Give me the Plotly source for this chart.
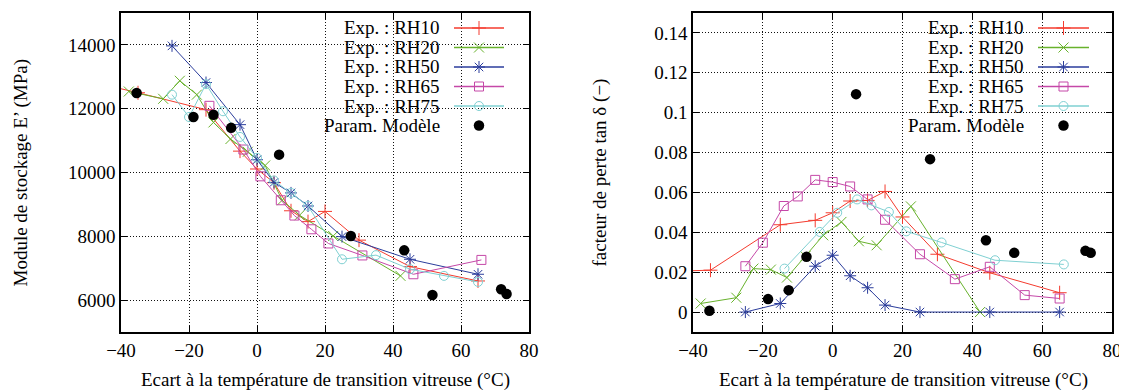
import plotly.graph_objects as go

W, H = 1127, 392
OX, OY = 8, 8  # page body margin offset compensation (pixels)

# ---------------- data: left panel (storage modulus E', MPa) ----------------
rh10_x_E = [-45, -35, -15, -5, 0, 5, 10, 15, 20, 30, 45, 65]
rh10_E = [12750, 12500, 11970, 10670, 10110, 9680, 8800, 8460, 8780, 7880, 7050, 6600]

rh20_x_E = [-37.7, -27.6, -22.7, -17.7, -12.8, -7.8, -2.7, 2.4, 7.4, 12.5, 22.4, 42.2]
rh20_E = [12540, 12310, 12875, 12440, 11570, 11050, 10650, 10220, 9130, 8660, 8010, 6760]

rh50_x_E = [-25, -15, -5, 0, 5, 10, 15, 25, 45, 65]
rh50_E = [13970, 12820, 11500, 10400, 9690, 9360, 8950, 7990, 7280, 6810]

rh65_x_E = [-14, -4, 1, 7, 11, 16, 21, 31, 46, 66]
rh65_E = [12090, 10720, 9880, 9130, 8650, 8220, 7775, 7400, 6810, 7260]

rh75_x_E = [-25, -20, -15, -10, -5, 0, 5, 10, 15, 25, 35, 45, 55, 65]
rh75_E = [12440, 11740, 12770, 11920, 11115, 10460, 9750, 9360, 8950, 7280, 7410, 6970, 6760, 6570]

param_x_E = [-35.4, -18.7, -12.8, -7.6, 6.5, 27.6, 43.3, 51.6, 71.8, 73.4]
param_E = [12490, 11740, 11810, 11400, 10560, 8010, 7560, 6160, 6340, 6190]

# ---------------- data: right panel (loss factor tan delta) ----------------
rh10_x_t = [-45, -35, -15, -5, 0, 5, 10, 15, 20, 30, 45, 65]
rh10_t = [0.0205, 0.021, 0.0438, 0.046, 0.0498, 0.0557, 0.056, 0.0605, 0.0477, 0.029, 0.0197, 0.0097]

rh20_x_t = [-37.8, -27.6, -22.7, -17.7, -13.1, -7.8, -2.7, 2.5, 7.5, 12.6, 22.4, 42.2]
rh20_t = [0.0043, 0.0072, 0.0218, 0.0213, 0.0173, 0.028, 0.0385, 0.0452, 0.0355, 0.0335, 0.053, 0.0]

rh50_x_t = [-25, -15, -5, 0, 5, 10, 15, 25, 45, 65]
rh50_t = [0.0, 0.0043, 0.023, 0.0285, 0.0182, 0.0122, 0.0035, 0.0, 0.0, 0.0]

rh65_x_t = [-25, -20, -14, -10, -5, 0, 5, 10, 15, 25, 35, 45, 55, 65]
rh65_t = [0.023, 0.0348, 0.0532, 0.058, 0.0663, 0.0652, 0.063, 0.0565, 0.0463, 0.029, 0.0165, 0.0227, 0.0085, 0.0068]

rh75_x_t = [-13.8, -3.7, 1.3, 7, 11.1, 16.1, 21.1, 31.2, 46.5, 66.2]
rh75_t = [0.0218, 0.0402, 0.0498, 0.0565, 0.0535, 0.0502, 0.0405, 0.0349, 0.026, 0.0239]

param_x_t = [-35.3, -18.5, -12.6, -7.5, 6.7, 27.9, 43.9, 52.0, 72.4, 73.9]
param_t = [0.0007, 0.0065, 0.011, 0.0277, 0.1093, 0.0767, 0.036, 0.0297, 0.0307, 0.0297]

# ---------------- ticks / labels ----------------
x_ticks = [-40, -20, 0, 20, 40, 60, 80]
x_ticktext = ["\u221240", "\u221220", "0", "20", "40", "60", "80"]
E_ticks = [6000, 8000, 10000, 12000, 14000]
E_ticktext = ["6000", "8000", "10000", "12000", "14000"]
t_ticks = [0, 0.02, 0.04, 0.06, 0.08, 0.1, 0.12, 0.14]
t_ticktext = ["0", "0.02", "0.04", "0.06", "0.08", "0.1", "0.12", "0.14"]

series_names = ["Exp. : RH10", "Exp. : RH20", "Exp. : RH50", "Exp. : RH65", "Exp. : RH75"]
param_name = "Param. Modèle"
x_title = "Ecart à la température de transition vitreuse (°C)"
yE_title = "Module de stockage E’ (MPa)"
yt_title = "facteur de perte tan δ (−)"

# ---------------- styles ----------------
FONT = "Liberation Serif"
FS = 19
colors = ["#f43b2e", "#68b22c", "#2b3d9c", "#c548a8", "#7fd0d2"]
symbols = ["cross-thin-open", "x-thin-open", "asterisk-open", "square-open", "circle-open"]
sizes = [10, 10, 10, 9, 9]


def px(xp):
    """screen pixel x -> paper fraction"""
    return (xp - OX) / W


def py(yp):
    """screen pixel y -> paper fraction"""
    return 1 - (yp - OY) / H


fig = go.Figure()

left_sets = [(rh10_x_E, rh10_E), (rh20_x_E, rh20_E), (rh50_x_E, rh50_E), (rh65_x_E, rh65_E), (rh75_x_E, rh75_E)]
right_sets = [(rh10_x_t, rh10_t), (rh20_x_t, rh20_t), (rh50_x_t, rh50_t), (rh65_x_t, rh65_t), (rh75_x_t, rh75_t)]

for (xs, ys), col, sym, sz, nm in zip(left_sets, colors, symbols, sizes, series_names):
    fig.add_trace(go.Scatter(x=xs, y=ys, mode="lines+markers", name=nm, showlegend=False,
                             line=dict(color=col, width=1),
                             marker=dict(symbol=sym, size=sz, color=col, line=dict(color=col, width=1)),
                             xaxis="x", yaxis="y"))
fig.add_trace(go.Scatter(x=param_x_E, y=param_E, mode="markers", name=param_name, showlegend=False,
                         marker=dict(symbol="circle", size=10.5, color="black"), xaxis="x", yaxis="y"))

for (xs, ys), col, sym, sz, nm in zip(right_sets, colors, symbols, sizes, series_names):
    fig.add_trace(go.Scatter(x=xs, y=ys, mode="lines+markers", name=nm, showlegend=False,
                             line=dict(color=col, width=1),
                             marker=dict(symbol=sym, size=sz, color=col, line=dict(color=col, width=1)),
                             xaxis="x2", yaxis="y2"))
fig.add_trace(go.Scatter(x=param_x_t, y=param_t, mode="markers", name=param_name, showlegend=False,
                         marker=dict(symbol="circle", size=10.5, color="black"), xaxis="x2", yaxis="y2"))

# ---------------- custom gnuplot-style legends (pixel overlay axes) ----------------
row_y = [28, 47.5, 67, 86.5, 106, 125.5]
legend_cfg = [
    dict(text_right=442, line0=454, line1=504, mark=479, box=(292, 517)),
    dict(text_right=1026, line0=1038, line1=1089, mark=1063.5, box=(877, 1101)),
]
shapes = []
annotations = []
for cfg in legend_cfg:
    shapes.append(dict(type="rect", xref="paper", yref="paper", layer="between",
                       x0=px(cfg["box"][0]), x1=px(cfg["box"][1]),
                       y0=py(133), y1=py(13.5),
                       fillcolor="white", line=dict(width=0)))
    for i, nm in enumerate(series_names + [param_name]):
        annotations.append(dict(x=px(cfg["text_right"]), y=py(row_y[i]), xref="paper", yref="paper",
                                text=nm, showarrow=False, xanchor="right", yanchor="middle",
                                font=dict(family=FONT, size=FS, color="black")))
    for i in range(5):
        fig.add_trace(go.Scatter(x=[cfg["line0"], cfg["line1"]], y=[row_y[i], row_y[i]], mode="lines",
                                 showlegend=False, hoverinfo="skip",
                                 line=dict(color=colors[i], width=1.3), xaxis="x3", yaxis="y3"))
        fig.add_trace(go.Scatter(x=[cfg["mark"]], y=[row_y[i]], mode="markers", showlegend=False,
                                 hoverinfo="skip",
                                 marker=dict(symbol=symbols[i], size=sizes[i], color=colors[i],
                                             line=dict(color=colors[i], width=1)),
                                 xaxis="x3", yaxis="y3"))
    fig.add_trace(go.Scatter(x=[cfg["mark"]], y=[row_y[5]], mode="markers", showlegend=False, hoverinfo="skip",
                             marker=dict(symbol="circle", size=10.5, color="black"), xaxis="x3", yaxis="y3"))

# axis titles
annotations.append(dict(x=px(325), y=py(380), xref="paper", yref="paper", text=x_title, showarrow=False,
                        xanchor="center", yanchor="middle", font=dict(family=FONT, size=FS, color="black")))
annotations.append(dict(x=px(903), y=py(380), xref="paper", yref="paper", text=x_title, showarrow=False,
                        xanchor="center", yanchor="middle", font=dict(family=FONT, size=FS, color="black")))
annotations.append(dict(x=px(20), y=py(172.5), xref="paper", yref="paper", text=yE_title, showarrow=False,
                        textangle=-90, xanchor="center", yanchor="middle",
                        font=dict(family=FONT, size=FS, color="black")))
annotations.append(dict(x=px(599), y=py(172.5), xref="paper", yref="paper", text=yt_title, showarrow=False,
                        textangle=-90, xanchor="center", yanchor="middle",
                        font=dict(family=FONT, size=FS, color="black")))

common = dict(showline=True, linecolor="black", linewidth=1.5, mirror="ticks",
              ticks="inside", ticklen=6, tickwidth=1, tickcolor="black",
              showgrid=True, gridcolor="#111111", gridwidth=1, griddash="1px,2px",
              zeroline=False, automargin=False, tickfont=dict(family=FONT, size=FS, color="black"))

yb, yt = py(332), py(13)
fig.update_layout(
    width=W, height=H,
    margin=dict(l=0, r=0, t=0, b=0, pad=0, autoexpand=False),
    paper_bgcolor="white", plot_bgcolor="rgba(0,0,0,0)",
    showlegend=False,
    xaxis=dict(domain=[px(121), px(529)], range=[-40, 80], tickvals=x_ticks, ticktext=x_ticktext,
               anchor="y", **common),
    yaxis=dict(domain=[yb, yt], range=[5000, 15000], tickvals=E_ticks, ticktext=E_ticktext,
               anchor="x", **common),
    xaxis2=dict(domain=[px(693), px(1112)], range=[-40, 80], tickvals=x_ticks, ticktext=x_ticktext,
                anchor="y2", **common),
    yaxis2=dict(domain=[yb, yt], range=[-0.01, 0.15], tickvals=t_ticks, ticktext=t_ticktext,
                anchor="x2", **common),
    xaxis3=dict(domain=[0, 1], range=[OX, W + OX], visible=False, anchor="y3", fixedrange=True),
    yaxis3=dict(domain=[0, 1], range=[H + OY, OY], visible=False, anchor="x3", fixedrange=True),
    shapes=shapes,
    annotations=annotations,
)

fig.write_html("out.html")
